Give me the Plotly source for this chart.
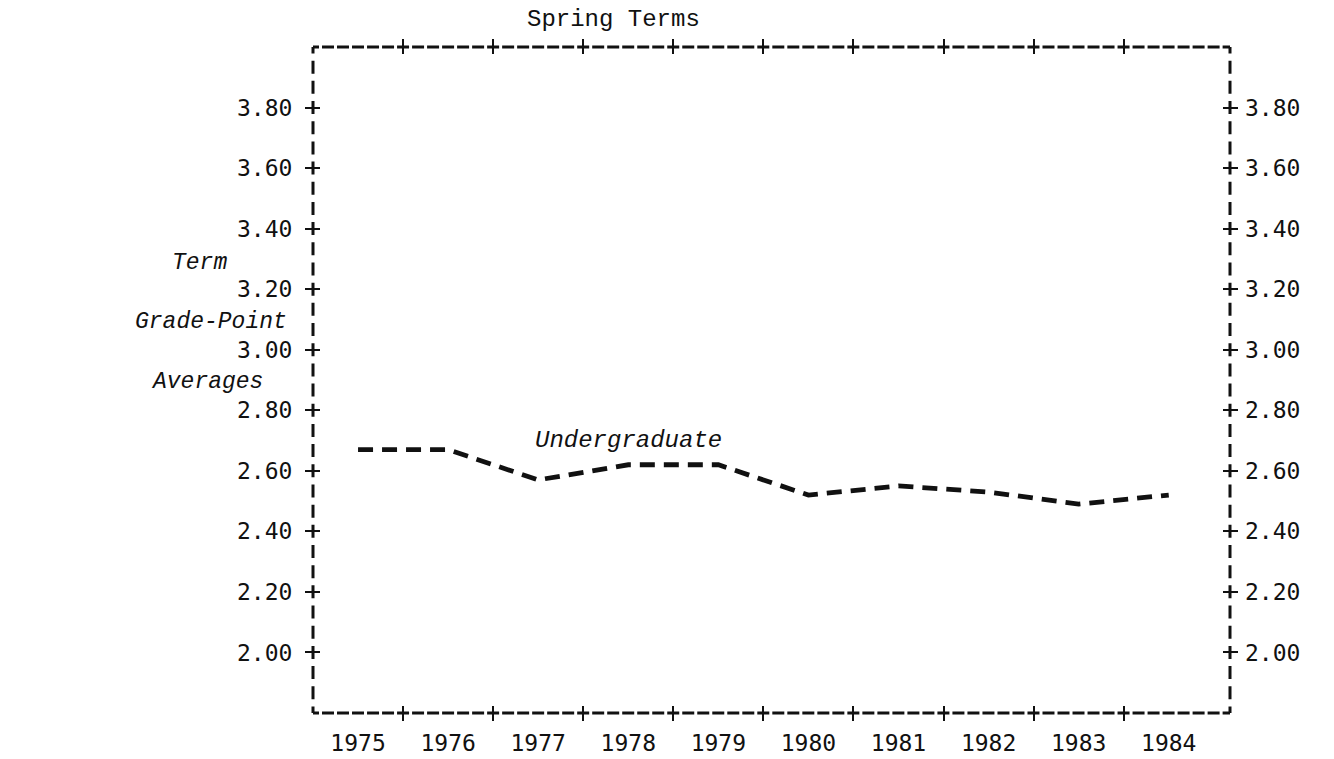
import plotly.graph_objects as go

# Spring-term undergraduate grade-point averages
years = [1975, 1976, 1977, 1978, 1979, 1980, 1981, 1982, 1983, 1984]
gpa = [2.67, 2.67, 2.57, 2.62, 2.62, 2.52, 2.55, 2.53, 2.49, 2.52]

# Axis ticks
y_ticks = [2.00, 2.20, 2.40, 2.60, 2.80, 3.00, 3.20, 3.40, 3.60, 3.80]
y_tick_text = ["2.00", "2.20", "2.40", "2.60", "2.80", "3.00", "3.20", "3.40", "3.60", "3.80"]
year_bounds = [1975.5, 1976.5, 1977.5, 1978.5, 1979.5, 1980.5, 1981.5, 1982.5, 1983.5]

W, H = 1334, 759
M_L, M_R, M_T, M_B = 313, 104, 47, 46
X_RANGE = [1974.5, 1984.68]
Y_RANGE = [1.80, 4.00]
plot_w = W - M_L - M_R
plot_h = H - M_T - M_B

INK = "#111111"
NUM_FONT = dict(family="DejaVu Sans Mono, monospace", size=23, color=INK)
ITAL_FONT = dict(family="Liberation Mono, monospace", size=24, color=INK, style="italic")

fig = go.Figure()
fig.add_trace(go.Scatter(
    x=years, y=gpa, mode="lines",
    line=dict(color=INK, width=4.8, dash="15px,9px"),
    hoverinfo="skip", showlegend=False,
))
# Transparent copies so the overlay axes (inner tick halves, labels) get drawn
for xa, ya in [("x2", "y2"), ("x3", "y3")]:
    fig.add_trace(go.Scatter(
        x=years, y=gpa, mode="lines", xaxis=xa, yaxis=ya,
        line=dict(color="rgba(0,0,0,0)", width=1),
        hoverinfo="skip", showlegend=False,
    ))

tick_common = dict(showgrid=False, zeroline=False, showline=False, automargin=False,
                   tickwidth=2.2, tickcolor=INK, ticklen=7)
plain = dict(showgrid=False, zeroline=False, showline=False, automargin=False)

fig.update_layout(
    width=W, height=H,
    margin=dict(l=M_L, r=M_R, t=M_T, b=M_B, pad=0, autoexpand=False),
    paper_bgcolor="white", plot_bgcolor="white",
    showlegend=False,
    xaxis=dict(range=X_RANGE, tickvals=year_bounds, ticks="outside", mirror="ticks",
               showticklabels=False, **tick_common),
    xaxis2=dict(range=X_RANGE, overlaying="x", anchor="y2", tickvals=year_bounds,
                ticks="inside", mirror="ticks", showticklabels=False, **tick_common),
    xaxis3=dict(range=X_RANGE, overlaying="x", anchor="y3", tickvals=years,
                ticktext=[str(v) for v in years], ticks="", showticklabels=True,
                tickfont=NUM_FONT, ticklabelstandoff=14, **plain),
    yaxis=dict(range=Y_RANGE, tickvals=y_ticks, ticktext=y_tick_text, ticks="outside",
               mirror="ticks", tickfont=NUM_FONT, ticklabelstandoff=8, **tick_common),
    yaxis2=dict(range=Y_RANGE, overlaying="y", anchor="x2", tickvals=y_ticks,
                ticks="inside", mirror="ticks", showticklabels=False, **tick_common),
    yaxis3=dict(range=Y_RANGE, overlaying="y", anchor="x3", side="right", tickvals=y_ticks,
                ticktext=y_tick_text, ticks="", tickfont=NUM_FONT, ticklabelstandoff=14,
                **plain),
)

# Dashed frame, with dashes centred on each tick position
def centred_dash(period, dash):
    return f"{dash/2:.2f}px,{period - dash:.2f}px,{dash/2:.2f}px,0px"

px_per_year = plot_w / (X_RANGE[1] - X_RANGE[0])
px_per_step = plot_h / ((Y_RANGE[1] - Y_RANGE[0]) / 0.2)
h_dash = centred_dash(px_per_year / 6, 12)
v_dash = centred_dash(px_per_step / 3, 13)

frame = [
    (0, 0, 1, 0, h_dash),   # bottom
    (0, 1, 1, 1, h_dash),   # top
    (0, 1, 0, 0, v_dash),   # left
    (1, 1, 1, 0, v_dash),   # right
]
for x0, y0, x1, y1, d in frame:
    fig.add_shape(type="line", xref="paper", yref="paper", x0=x0, y0=y0, x1=x1, y1=y1,
                  line=dict(color=INK, width=3, dash=d), layer="above")

# Title and axis captions
fig.add_annotation(text="Spring Terms", xref="paper", yref="paper",
                   x=(613 - M_L) / plot_w, y=1 + (M_T - 20) / plot_h,
                   xanchor="center", yanchor="middle", showarrow=False,
                   font=dict(family="Liberation Mono, monospace", size=24, color=INK))
for txt, px, py in [("Term", 199, 263), ("Grade-Point", 211, 322), ("Averages", 207, 382)]:
    fig.add_annotation(text=txt, xref="paper", yref="paper",
                       x=(px - M_L) / plot_w, y=1 - (py - M_T) / plot_h,
                       xanchor="center", yanchor="middle", showarrow=False,
                       font=dict(ITAL_FONT, size=23))

# Series label
fig.add_annotation(text="Undergraduate", x=1978, y=2.70, xref="x", yref="y",
                   xanchor="center", yanchor="middle", showarrow=False, font=ITAL_FONT)

fig.write_html("out.html")
